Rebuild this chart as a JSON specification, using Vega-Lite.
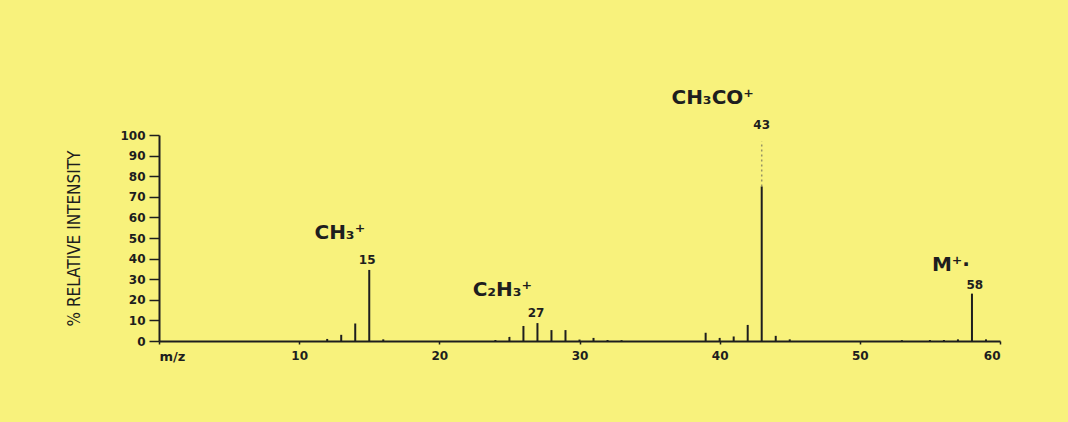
{
  "$schema": "https://vega.github.io/schema/vega-lite/v6.json",
  "autosize": "none",
  "width": 841,
  "height": 206,
  "padding": {"left": 159, "top": 135, "right": 68, "bottom": 81},
  "background": "#f8f27c",
  "config": {
    "view": {"stroke": null},
    "font": "DejaVu Sans"
  },
  "datasets": {
    "peaks": [
      {"mz": 12, "intensity": 1},
      {"mz": 13, "intensity": 3},
      {"mz": 14, "intensity": 8.5},
      {"mz": 15, "intensity": 34.5},
      {"mz": 16, "intensity": 0.8},
      {"mz": 24, "intensity": 0.5},
      {"mz": 25, "intensity": 2},
      {"mz": 26, "intensity": 7.3},
      {"mz": 27, "intensity": 8.7},
      {"mz": 28, "intensity": 5.3},
      {"mz": 29, "intensity": 5.3},
      {"mz": 30, "intensity": 0.7},
      {"mz": 31, "intensity": 1.5},
      {"mz": 32, "intensity": 0.5},
      {"mz": 33, "intensity": 0.4},
      {"mz": 39, "intensity": 4},
      {"mz": 40, "intensity": 1.5},
      {"mz": 41, "intensity": 2.2},
      {"mz": 42, "intensity": 7.8},
      {"mz": 43, "intensity": 75},
      {"mz": 44, "intensity": 2.5},
      {"mz": 45, "intensity": 0.8},
      {"mz": 53, "intensity": 0.4},
      {"mz": 55, "intensity": 0.5},
      {"mz": 56, "intensity": 0.5},
      {"mz": 57, "intensity": 0.8},
      {"mz": 58, "intensity": 23},
      {"mz": 59, "intensity": 0.8}
    ],
    "faint": [
      {"mz": 43, "intensity": 75, "to": 97}
    ],
    "ions": [
      {"mz": 12.9, "intensity": 52.4, "label": "CH₃⁺"},
      {"mz": 24.5, "intensity": 24.8, "label": "C₂H₃⁺"},
      {"mz": 39.5, "intensity": 118, "label": "CH₃CO⁺"},
      {"mz": 56.5, "intensity": 37, "label": "M⁺·"}
    ],
    "masses": [
      {"mz": 14.85, "intensity": 39.3, "label": "15"},
      {"mz": 26.9, "intensity": 13.6, "label": "27"},
      {"mz": 43, "intensity": 105, "label": "43"},
      {"mz": 58.2, "intensity": 27, "label": "58"}
    ]
  },
  "encoding": {
    "x": {
      "field": "mz", "type": "quantitative",
      "scale": {"domain": [0, 60], "nice": false},
      "axis": {
        "values": [0, 10, 20, 30, 40, 50, 60],
        "labelExpr": "datum.value == 0 ? 'm/z' : datum.label",
        "title": null, "labelOverlap": false,
        "domainColor": "#1e1e1e", "domainWidth": 2,
        "tickColor": "#1e1e1e", "tickSize": 3, "tickWidth": 1.5,
        "labelFont": "DejaVu Sans", "labelFontWeight": "bold",
        "labelFontSize": {"expr": "datum.value == 0 ? 13 : 12"},
        "labelColor": "#1e1e1e", "labelPadding": 6, "grid": false
      }
    },
    "y": {
      "field": "intensity", "type": "quantitative",
      "scale": {"domain": [0, 100], "nice": false},
      "axis": {
        "values": [0, 10, 20, 30, 40, 50, 60, 70, 80, 90, 100],
        "labelOverlap": false,
        "title": "% RELATIVE INTENSITY",
        "titleFont": "DejaVu Sans Condensed", "titleFontSize": 17, "titleFontWeight": "normal",
        "titleColor": "#1e1e1e", "titlePadding": 36,
        "domainColor": "#1e1e1e", "domainWidth": 2,
        "tickColor": "#1e1e1e", "tickSize": 10, "tickWidth": 1.5,
        "labelFont": "DejaVu Sans", "labelFontWeight": "bold", "labelFontSize": 12,
        "labelColor": "#1e1e1e", "labelPadding": 4, "grid": false
      }
    }
  },
  "layer": [
    {
      "data": {"name": "peaks"},
      "mark": {"type": "rule", "color": "#1e1e1e", "strokeWidth": 2},
      "encoding": {
        "y2": {"datum": 0}
      }
    },
    {
      "data": {"name": "faint"},
      "mark": {"type": "rule", "color": "#555555", "strokeWidth": 1.5, "strokeDash": [2, 3], "opacity": 0.6},
      "encoding": {
        "y2": {"field": "to"}
      }
    },
    {
      "data": {"name": "ions"},
      "mark": {"type": "text", "font": "DejaVu Sans", "fontWeight": "bold", "fontSize": 20, "color": "#1e1e1e", "baseline": "middle", "align": "center"},
      "encoding": {
        "text": {"field": "label"}
      }
    },
    {
      "data": {"name": "masses"},
      "mark": {"type": "text", "font": "DejaVu Sans", "fontWeight": "bold", "fontSize": 12, "color": "#1e1e1e", "baseline": "middle", "align": "center"},
      "encoding": {
        "text": {"field": "label"}
      }
    }
  ]
}
